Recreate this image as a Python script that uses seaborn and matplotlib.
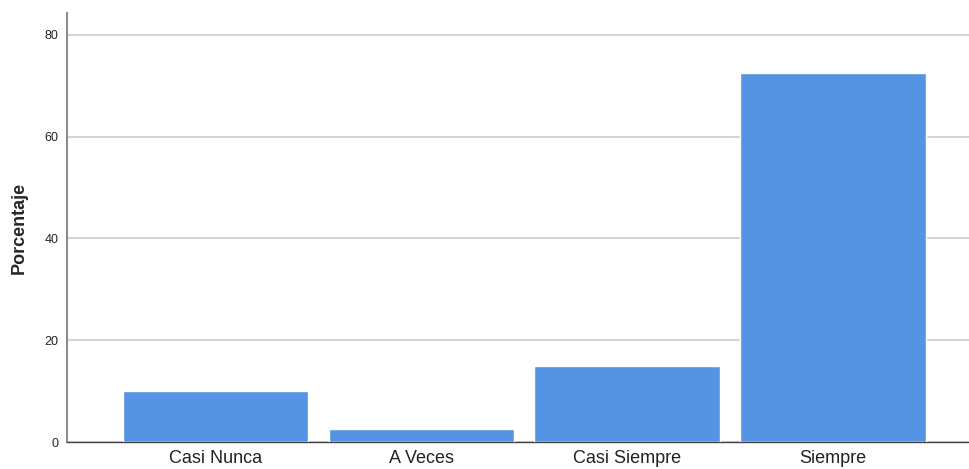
import pandas as pd
import matplotlib.pyplot as plt
import seaborn as sns

# Data
categorias = ["Casi Nunca", "A Veces", "Casi Siempre", "Siempre"]
porcentajes = [10.0, 2.5, 15.0, 72.5]

df = pd.DataFrame({"categoria": categorias, "porcentaje": porcentajes})

sns.set_style("white")
plt.rcParams['font.family'] = ['Liberation Sans', 'DejaVu Sans']

fig = plt.figure(figsize=(9.69, 4.69), dpi=100)
ax = fig.add_axes([67 / 969, 27 / 469, 1 - 67 / 969, 429 / 469])

sns.barplot(data=df, x="categoria", y="porcentaje", color="#5593e3",
            width=0.9, saturation=1, ax=ax, zorder=3)

ax.set_xlim(-0.72, 3.66)
ax.set_ylim(0, 84.3)
ax.set_yticks([0, 20, 40, 60, 80])
ax.yaxis.grid(True, color="#d4d4d4", linewidth=1.5, zorder=0)
ax.set_axisbelow(True)

for s in ["top", "right"]:
    ax.spines[s].set_visible(False)
ax.spines["left"].set_color("#8c8c8c")
ax.spines["left"].set_linewidth(1.5)
ax.spines["bottom"].set_color("#444444")
ax.spines["bottom"].set_linewidth(1.0)

ax.tick_params(axis="y", length=0, labelsize=9, pad=6, colors="#222222")
ax.tick_params(axis="x", length=0, labelsize=13, pad=6, colors="#222222")
ax.set_xlabel("")
ax.set_ylabel("Porcentaje", fontsize=13, fontweight="bold", labelpad=12)

plt.savefig("out.png", dpi=100)
plt.close()
